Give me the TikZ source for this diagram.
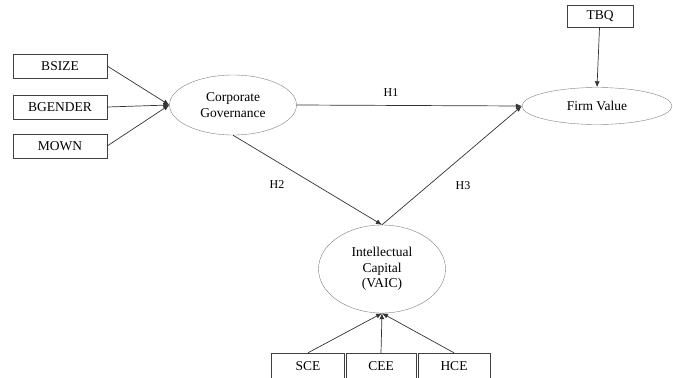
\documentclass[tikz,border=0pt]{standalone}
\usepackage{fontspec}
\setmainfont{Liberation Serif}
\usetikzlibrary{arrows.meta, shapes.geometric}

\begin{document}
\begin{tikzpicture}[
  x=1pt, y=-1pt,
  obs/.style={rectangle, draw, black!75, text=black, minimum height=24pt,
              inner sep=0pt, font=\fontsize{13.5}{15}\selectfont},
  latent/.style={ellipse, draw, black!50, text=black, inner sep=0pt,
                 align=center, font=\fontsize{13.5}{15.5}\selectfont},
  lk/.style={draw, black!80, line width=0.7pt,
             -{Latex[length=6pt, width=5pt]}},
  hyp/.style={text=black, font=\fontsize{12}{14}\selectfont}
]
  \useasboundingbox (0,0) rectangle (673,378);
  % indicator boxes
  \node[obs, minimum width=94pt] (bsize)   at (60,66)  {BSIZE};
  \node[obs, minimum width=94pt] (bgender) at (60,107) {BGENDER};
  \node[obs, minimum width=94pt] (mown)    at (60,146) {MOWN};
  \node[obs, minimum width=66pt, minimum height=22pt] (tbq) at (600,16) {TBQ};
  \node[obs, minimum width=73pt, minimum height=26pt] (sce) at (308,366) {SCE};
  \node[obs, minimum width=70pt, minimum height=26pt] (cee) at (381,366) {CEE};
  \node[obs, minimum width=72pt, minimum height=26pt] (hce) at (454,366) {HCE};
  % constructs
  \node[latent, minimum width=127pt, minimum height=60pt] (cg) at (233,105)
    {Corporate\\Governance};
  \node[latent, minimum width=150pt, minimum height=37pt] (fv) at (597,106)
    {Firm Value};
  \node[latent, minimum width=127pt, minimum height=88pt] (ic) at (382,269)
    {Intellectual\\Capital\\(VAIC)};
  \foreach \n in {bsize,bgender,mown} \draw[lk] (\n.east) -- (cg.west);
  \foreach \n in {sce,cee,hce} \draw[lk] (\n.north) -- (ic.south);
  \draw[lk] (tbq) -- (fv.north);
  \draw[lk] (cg.east) -- (fv.west);
  \draw[lk] (cg.south) -- (ic.north);
  \draw[lk] (ic.north) -- (fv.west);
  \node[hyp] (h1) at (391,93)  {H1};
  \node[hyp] (h2) at (277,185) {H2};
  \node[hyp] (h3) at (463,186) {H3};
\end{tikzpicture}
\end{document}
